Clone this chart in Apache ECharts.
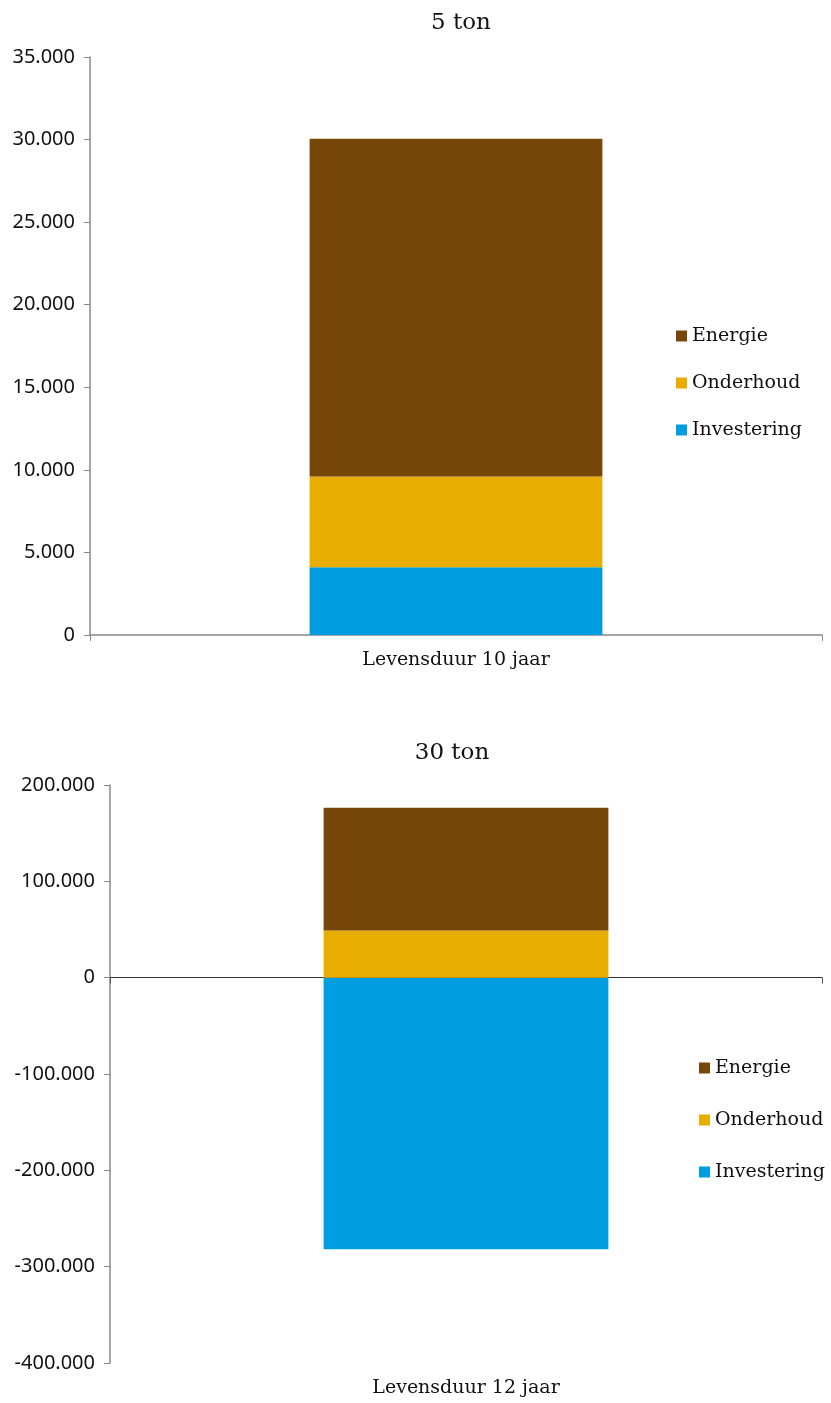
<!DOCTYPE html>
<html>
<head>
<meta charset="utf-8">
<title>Kosten per levensduur</title>
<script src="https://cdn.jsdelivr.net/npm/echarts@6/dist/echarts.min.js"></script>
<style>
  html, body { margin: 0; padding: 0; background: #fff; }
  #chart { width: 831px; height: 1403px; }
</style>
</head>
<body>
<div id="chart"></div>
<script>
// Cost breakdown for two cooling capacities
const seriesNames = ['Investering', 'Onderhoud', 'Energie'];
const legendOrder = ['Energie', 'Onderhoud', 'Investering'];
const colors = { Investering: '#009EE0', Onderhoud: '#E9AC00', Energie: '#77470A' };

// 5 ton
const cat5 = ['Levensduur 10 jaar'];
const investering5 = [4100];
const onderhoud5 = [5500];
const energie5 = [20450];

// 30 ton
const cat30 = ['Levensduur 12 jaar'];
const investering30 = [-282000];
const onderhoud30 = [49000];
const energie30 = [127500];

const sansFont = 'Noto Sans';
const serifFont = 'DejaVu Serif';

function fmt(v) {
  const s = Math.abs(v).toString().replace(/\B(?=(\d{3})+(?!\d))/g, '.');
  return (v < 0 ? '-' : '') + s;
}

const yLabel = { fontFamily: sansFont, fontSize: 20, color: '#111', margin: 15, formatter: fmt };
const serifText = { fontFamily: serifFont, fontSize: 19, color: '#111' };

function barSeries(name, data, gi, xi) {
  return {
    name, type: 'bar', stack: 'total' + gi, data,
    xAxisIndex: xi, yAxisIndex: gi, barWidth: '40%',
    itemStyle: { color: colors[name] }
  };
}

const chart = echarts.init(document.getElementById('chart'), null, { renderer: 'canvas' });
chart.setOption({
  animation: false,
  title: [
    { text: '5 ton', left: 456, top: 7, textAlign: 'center',
      textStyle: { fontFamily: serifFont, fontSize: 23, fontWeight: 'normal', color: '#111' } },
    { text: '30 ton', left: 447, top: 737, textAlign: 'center',
      textStyle: { fontFamily: serifFont, fontSize: 23, fontWeight: 'normal', color: '#111' } }
  ],
  legend: [
    { data: legendOrder, orient: 'vertical', left: 671, top: 321, itemWidth: 11, itemHeight: 11,
      itemGap: 27, icon: 'rect',
      textStyle: Object.assign({ lineHeight: 20 }, serifText) },
    { data: legendOrder, orient: 'vertical', left: 694, top: 1053, itemWidth: 11, itemHeight: 11,
      itemGap: 32, icon: 'rect',
      textStyle: Object.assign({ lineHeight: 20 }, serifText) }
  ],
  grid: [
    { left: 90, right: 9, top: 57, height: 578 },
    { left: 110, right: 9, top: 785, height: 578 }
  ],
  xAxis: [
    { type: 'category', gridIndex: 0, data: cat5, boundaryGap: true,
      axisLine: { lineStyle: { color: '#888', width: 1.5 } },
      axisTick: { show: true, length: 6, lineStyle: { color: '#888' } },
      axisLabel: Object.assign({ margin: 16 }, serifText) },
    // category label at the foot of the lower panel
    { type: 'category', gridIndex: 1, data: cat30, boundaryGap: true, position: 'bottom',
      axisLine: { show: false, onZero: false }, axisTick: { show: false },
      axisLabel: Object.assign({ margin: 16 }, serifText) },
    // zero line of the lower panel
    { type: 'category', gridIndex: 1, data: cat30, boundaryGap: true, position: 'bottom',
      axisLine: { onZero: true, lineStyle: { color: '#333', width: 1.2 } },
      axisTick: { show: true, length: 6, lineStyle: { color: '#555' } },
      axisLabel: { show: false } }
  ],
  yAxis: [
    { type: 'value', gridIndex: 0, min: 0, max: 35000, interval: 5000,
      axisLine: { show: true, lineStyle: { color: '#888', width: 1.5 } },
      axisTick: { show: true, length: 6, lineStyle: { color: '#888' } },
      splitLine: { show: false }, axisLabel: yLabel },
    { type: 'value', gridIndex: 1, min: -400000, max: 200000, interval: 100000,
      axisLine: { show: true, lineStyle: { color: '#888', width: 1.5 } },
      axisTick: { show: true, length: 6, lineStyle: { color: '#888' } },
      splitLine: { show: false }, axisLabel: yLabel }
  ],
  series: [
    barSeries('Investering', investering5, 0, 0),
    barSeries('Onderhoud', onderhoud5, 0, 0),
    barSeries('Energie', energie5, 0, 0),
    barSeries('Investering', investering30, 1, 1),
    barSeries('Onderhoud', onderhoud30, 1, 1),
    barSeries('Energie', energie30, 1, 1)
  ]
});
</script>
</body>
</html>
